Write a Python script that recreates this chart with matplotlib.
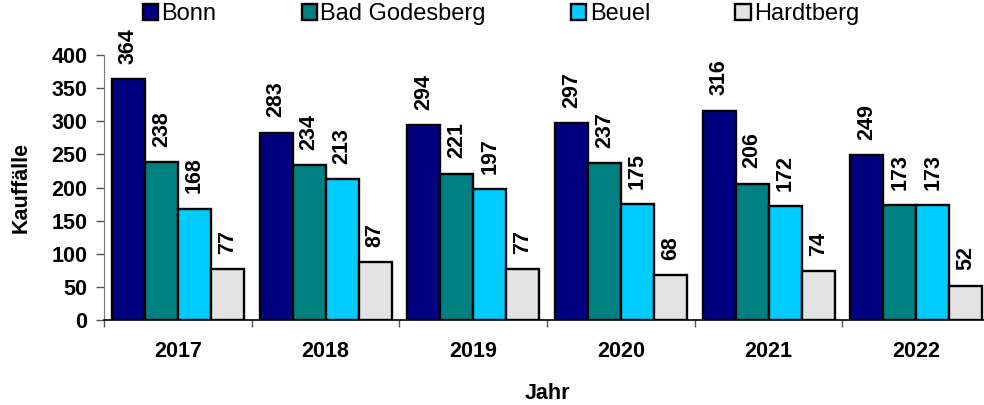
import numpy as np
import matplotlib
matplotlib.use("Agg")
import matplotlib.pyplot as plt
from matplotlib.ticker import FixedLocator

plt.rcParams['font.family'] = ['Liberation Sans', 'DejaVu Sans']

years = ["2017", "2018", "2019", "2020", "2021", "2022"]
series_names = ["Bonn", "Bad Godesberg", "Beuel", "Hardtberg"]
bonn = [364, 283, 294, 297, 316, 249]
bad_godesberg = [238, 234, 221, 237, 206, 173]
beuel = [168, 213, 197, 175, 172, 173]
hardtberg = [77, 87, 77, 68, 74, 52]
colors = ["#000080", "#008080", "#00CCFF", "#E3E3E3"]

fig = plt.figure(figsize=(9.84, 4.05), dpi=100)
ax = fig.add_axes([104 / 984, 85 / 405, 886 / 984, 265 / 405])

x = np.arange(len(years))
w = 0.2236
start = -0.5 + 0.054
handles = []
for k, (name, vals) in enumerate(zip(series_names, [bonn, bad_godesberg, beuel, hardtberg])):
    pos = x + start + k * w + w / 2
    b = ax.bar(pos, vals, width=w, color=colors[k], edgecolor="black", linewidth=1.7, label=name)
    handles.append(b)
    for p, v in zip(pos, vals):
        ax.annotate(str(v), (p, v), xytext=(0, 11), textcoords="offset points",
                    rotation=90, ha="center", va="bottom", fontsize=15.5, fontweight="bold")

ax.set_xlim(-0.5, len(years) - 0.5)
ax.set_ylim(0, 400)
ax.set_yticks(range(0, 401, 50))
ax.set_xticks(x)
ax.set_xticklabels(years)
ax.xaxis.set_minor_locator(FixedLocator(np.arange(-0.5, len(years), 1.0)))
ax.tick_params(axis="x", which="major", length=0, pad=15)
ax.tick_params(axis="x", which="minor", length=5, color="#555555", width=1)
ax.tick_params(axis="y", length=6, color="#555555", width=1, pad=6)
for lab in ax.get_xticklabels() + ax.get_yticklabels():
    lab.set_fontsize(15.5)
    lab.set_fontweight("bold")

for s in ["top", "right"]:
    ax.spines[s].set_visible(False)
ax.spines["left"].set_color("#777777")
ax.spines["bottom"].set_color("black")
ax.spines["bottom"].set_linewidth(1.2)

ax.set_ylabel("Kauffälle", fontsize=15.5, fontweight="bold", labelpad=14)
ax.set_xlabel("Jahr", fontsize=15.5, fontweight="bold", labelpad=15)

fig.legend(handles=handles, labels=series_names, loc="center", bbox_to_anchor=(0.5 + 9 / 984, 1 - 14 / 405),
           ncol=4, frameon=False, fontsize=17, handlelength=0.65, handleheight=0.65,
           handletextpad=0.15, columnspacing=3.6, borderaxespad=0)

fig.savefig("out.png", dpi=100)
